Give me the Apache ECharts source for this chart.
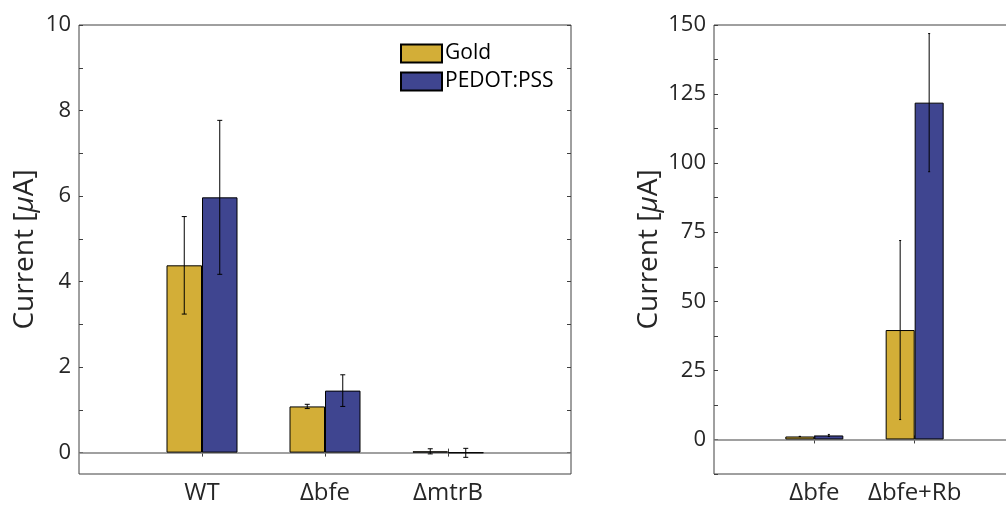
<!DOCTYPE html>
<html>
<head>
<meta charset="utf-8">
<script src="https://cdn.jsdelivr.net/npm/echarts@6/dist/echarts.min.js"></script>
<style>html,body{margin:0;padding:0;background:#fff;overflow:hidden;width:1006px;height:506px;}#c{width:1030px;height:506px;}</style>
</head>
<body>
<div id="c"></div>
<script>
// ---- data ----
const leftCats = ['', 'WT', 'Δbfe', 'ΔmtrB', ''];
const leftGold = [null, 4.38, 1.08, 0.03, null];
const leftGoldErr = [null, 1.14, 0.05, 0.06, null];
const leftBlue = [null, 5.97, 1.45, -0.005, null];
const leftBlueErr = [null, 1.8, 0.37, 0.105, null];
const leftTicks = [0,1,2,3,4,5,6,7,8,9,10];
const leftLabels = [0,2,4,6,8,10];

const rightCats = ['', 'Δbfe', 'Δbfe+Rb', ''];
const rightGold = [null, 1.08, 39.6, null];
const rightGoldErr = [null, 0.05, 32.4, null];
const rightBlue = [null, 1.45, 121.9, null];
const rightBlueErr = [null, 0.37, 25, null];
const rightTicks = [-12.5,0,12.5,25,37.5,50,62.5,75,87.5,100,112.5,125,137.5,150];
const rightLabels = [0,25,50,75,100,125,150];

const GOLD = '#D3AE37';
const BLUE = '#3F4590';
const FONT = 'Open Sans';
const AX = '#404040';

const chart = echarts.init(document.getElementById('c'), null, {renderer:'canvas'});

function xAxes(cats, gi) {
  const tickInt = (i) => i > 0 && i < cats.length - 1;
  const base = {
    type:'category', data:cats, gridIndex:gi, boundaryGap:false,
    axisLine:{show:false}, splitLine:{show:false},
    axisTick:{show:true, inside:true, length:4, interval:tickInt, lineStyle:{color:AX}}
  };
  return [
    Object.assign({}, base, {position:'bottom',
      axisLabel:{show:true, interval:0, margin:7, fontFamily:FONT, fontSize:24, color:'#262626'}}),
    Object.assign({}, base, {position:'top', axisLabel:{show:false}})
  ];
}
function yAxes(gi, min, max, ticks, labels, gap) {
  const base = {
    type:'value', gridIndex:gi, min:min, max:max,
    axisLine:{show:false}, splitLine:{show:false},
    axisTick:{show:true, inside:true, length:4, customValues:ticks, lineStyle:{color:AX}}
  };
  return [
    Object.assign({}, base, {position:'left',
      axisLabel:{show:true, customValues:labels, margin:8, fontFamily:FONT, fontSize:22, color:'#262626'},
      name:'Current [{i|μ}A]', nameLocation:'middle', nameGap:gap, nameRotate:90,
      nameTextStyle:{fontFamily:FONT, fontSize:28, color:'#262626',
        rich:{i:{fontFamily:FONT, fontSize:28, fontStyle:'italic', color:'#262626'}}}}),
    Object.assign({}, base, {position:'right', axisLabel:{show:false}})
  ];
}
function bars(name, data, color, xi, yi, bw, withZero) {
  const s = {
    name:name, type:'bar', data:data, xAxisIndex:xi, yAxisIndex:yi,
    barWidth:bw, barGap:'0%',
    itemStyle:{color:color, borderColor:'#000', borderWidth:1}
  };
  if (withZero) {
    s.markLine = {silent:true, symbol:['none','none'], label:{show:false},
      lineStyle:{color:'#808080', width:1.5, type:'solid'}, data:[{yAxis:0}], z:1};
  }
  return s;
}
function errs(mean, err, xi, yi, offset, cap) {
  const data = mean.map((m, i) => m == null ? null : [i, m - err[i], m + err[i]]).filter(d => d);
  return {
    type:'custom', xAxisIndex:xi, yAxisIndex:yi, silent:true, z:10, data:data,
    renderItem:(params, api) => {
      const x = api.coord([api.value(0), 0])[0] + offset;
      const y1 = api.coord([api.value(0), api.value(1)])[1];
      const y2 = api.coord([api.value(0), api.value(2)])[1];
      const st = {stroke:'#000', lineWidth:1};
      return {type:'group', children:[
        {type:'line', shape:{x1:x, y1:y1, x2:x, y2:y2}, style:st},
        {type:'line', shape:{x1:x-cap, y1:y1, x2:x+cap, y2:y1}, style:st},
        {type:'line', shape:{x1:x-cap, y1:y2, x2:x+cap, y2:y2}, style:st}
      ]};
    }
  };
}

const LBW = 35.5, RBW = 29;
const option = {
  animation:false,
  backgroundColor:'#fff',
  grid:[
    {left:79, top:25, width:492, height:449, show:true, borderColor:AX, borderWidth:1, backgroundColor:'transparent'},
    {left:714, top:25, width:301, height:449, show:true, borderColor:AX, borderWidth:1, backgroundColor:'transparent'}
  ],
  xAxis:[].concat(xAxes(leftCats, 0), xAxes(rightCats, 1)),
  yAxis:[].concat(yAxes(0, -0.5, 10, leftTicks, leftLabels, 40), yAxes(1, -12.5, 150, rightTicks, rightLabels, 51)),
  legend:{
    data:['Gold','PEDOT:PSS'], orient:'vertical', left:400, top:43, padding:0,
    itemWidth:41, itemHeight:18, itemGap:7, icon:'rect',
    textStyle:{fontFamily:FONT, fontSize:21, color:'#000', padding:[0,0,0,-2]}
  },
  series:[
    bars('Gold', leftGold, GOLD, 0, 0, LBW, true),
    bars('PEDOT:PSS', leftBlue, BLUE, 0, 0, LBW, false),
    bars('Gold', rightGold, GOLD, 2, 2, RBW, true),
    bars('PEDOT:PSS', rightBlue, BLUE, 2, 2, RBW, false),
    errs(leftGold, leftGoldErr, 0, 0, -LBW/2, 2.5),
    errs(leftBlue, leftBlueErr, 0, 0, LBW/2, 2.5),
    errs(rightGold, rightGoldErr, 2, 2, -RBW/2, 1),
    errs(rightBlue, rightBlueErr, 2, 2, RBW/2, 1)
  ]
};
chart.setOption(option);
</script>
</body>
</html>
